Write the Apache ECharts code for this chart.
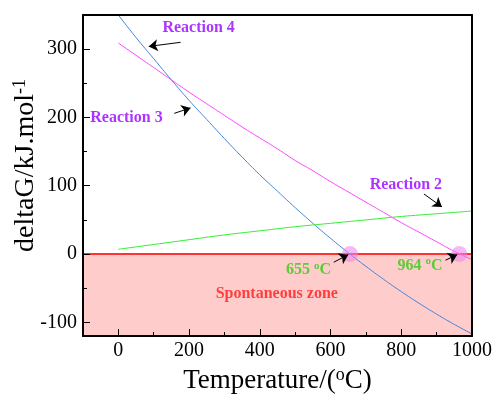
<!DOCTYPE html>
<html>
<head>
<meta charset="utf-8">
<script src="https://cdn.jsdelivr.net/npm/echarts@6/dist/echarts.min.js"></script>
<style>
  html, body { margin: 0; padding: 0; background: #fff; }
  #chart { width: 494px; height: 395px; }
</style>
</head>
<body>
<div id="chart"></div>
<script>
// temperature grid (°C) for the two steep reactions
const temps = [0, 50, 100, 150, 200, 250, 300, 350, 400, 450, 500,
  550, 600, 650, 700, 750, 800, 850, 900, 950, 1000];
// deltaG values (kJ/mol)
const reaction4 = [350, 317, 286, 255, 225, 197, 169, 142, 116, 92, 68,
  45, 23, 2, -18, -37, -55, -72, -88, -103, -117];
const reaction3 = [309, 291, 273, 255, 237, 220, 203, 186, 170, 154, 137,
  122, 106, 91, 76, 61, 46, 32, 18, 4, -8];
const temps2 = [0, 100, 200, 300, 400, 500, 600, 700, 800, 900, 1000];
const reaction2 = [7, 14, 21, 28, 34, 40, 45, 50, 55, 59, 63];

const xTicks = [0, 200, 400, 600, 800, 1000];
const xMinor = [100, 300, 500, 700, 900];
const yTicks = [-100, 0, 100, 200, 300];
const yMinor = [-50, 50, 150, 250];
const crossings = [655, 964];

const font = 'Liberation Serif';
const pair = (xs, ys) => xs.map((x, i) => [x, ys[i]]);

// annotation texts and where they sit (data coordinates)
const notes = [
  { text: 'Reaction 4', at: [227, 331], color: '#9900ff' },
  { text: 'Reaction 3', at: [23, 199], color: '#9900ff' },
  { text: 'Reaction 2', at: [813, 102], color: '#9900ff' },
  { text: '655 {sup|o}C', at: [538, -23], color: '#33cc11' },
  { text: '964 {sup|o}C', at: [853, -17], color: '#33cc11' },
  { text: 'Spontaneous zone', at: [448, -59], color: '#ff1a1a' }
];
const arrows = [
  [[176, 310], [86, 304]],
  [[158, 206], [204, 214]],
  [[864, 88], [915, 69]],
  [[609, -12], [650, -1]],
  [[925, -9], [958, -1]]
];

const chart = echarts.init(document.getElementById('chart'));

const tickStyle = { color: '#000', width: 1 };
const frameLine = { show: true, onZero: false, lineStyle: { color: '#000', width: 2 } };
const supStyle = { fontFamily: font, fontSize: 18, color: '#000', padding: [0, 0, 12, 0] };

// an axis used only for ticks or for the frame line, drawn above the fill
const plainAxis = (min, max, position, extra) => Object.assign({
  type: 'value', min: min, max: max, position: position, z: 10,
  splitLine: { show: false },
  axisLine: { show: false, onZero: false },
  axisTick: { show: false },
  axisLabel: { show: false }
}, extra);
const ticks = (values, len) => ({
  axisTick: { show: true, inside: true, length: len, lineStyle: tickStyle, customValues: values }
});

chart.setOption({
  animation: false,
  grid: { left: 83, right: 22, top: 15, bottom: 59, outerBoundsMode: 'none' },
  xAxis: [
    {
      type: 'value', min: -100, max: 1000, z: 10,
      splitLine: { show: false },
      axisLine: frameLine,
      name: 'Temperature/({sup|o}C)',
      nameLocation: 'middle', nameGap: 30, nameMoveOverlap: false,
      nameTextStyle: { fontFamily: font, fontSize: 27, color: '#000', rich: { sup: supStyle } },
      axisTick: { show: false },
      axisLabel: {
        customValues: xTicks, formatter: v => String(v),
        fontFamily: font, fontSize: 20, color: '#000', margin: 5
      }
    },
    plainAxis(-100, 1000, 'bottom', ticks(xTicks, 7)),
    plainAxis(-100, 1000, 'bottom', ticks(xMinor, 4)),
    plainAxis(-100, 1000, 'top', { axisLine: frameLine })
  ],
  yAxis: [
    {
      type: 'value', min: -120, max: 350, z: 10,
      splitLine: { show: false },
      axisLine: frameLine,
      name: 'deltaG/kJ.mol{sup|-1}',
      nameLocation: 'middle', nameGap: 42, nameRotate: 90, nameMoveOverlap: false,
      nameTextStyle: {
        fontFamily: font, fontSize: 28, color: '#000', padding: [0, 0, 0, 20],
        rich: { sup: supStyle }
      },
      axisTick: { show: false },
      axisLabel: {
        customValues: yTicks, formatter: v => String(v),
        fontFamily: font, fontSize: 20, color: '#000', margin: 6
      }
    },
    plainAxis(-120, 350, 'left', ticks(yTicks, 7)),
    plainAxis(-120, 350, 'left', ticks(yMinor, 4)),
    plainAxis(-120, 350, 'right', { axisLine: frameLine })
  ],
  series: [
    {
      name: 'zero', type: 'line', z: 1,
      data: [[-100, 0], [1000, 0]],
      symbol: 'none',
      lineStyle: { color: '#ff3333', width: 2 },
      areaStyle: { origin: 'start', color: '#ffcccc', opacity: 1 }
    },
    {
      name: 'Reaction 4', type: 'line', z: 3, smooth: true,
      data: pair(temps, reaction4), symbol: 'none',
      lineStyle: { color: '#3f86dc', width: 1 }
    },
    {
      name: 'Reaction 3', type: 'line', z: 3, smooth: true,
      data: pair(temps, reaction3), symbol: 'none',
      lineStyle: { color: '#ff44ff', width: 1 }
    },
    {
      name: 'Reaction 2', type: 'line', z: 3, smooth: true,
      data: pair(temps2, reaction2), symbol: 'none',
      lineStyle: { color: '#33ee33', width: 1 }
    },
    {
      name: 'points', type: 'scatter', z: 4,
      data: crossings.map(t => [t, 0]),
      symbolSize: 16,
      itemStyle: { color: 'rgba(238, 130, 238, 0.7)' },
      markLine: {
        silent: true,
        symbol: ['none', 'arrow'],
        symbolSize: 9,
        label: { show: false },
        lineStyle: { color: '#000', width: 1, type: 'solid' },
        data: arrows.map(a => [{ coord: a[0] }, { coord: a[1] }])
      }
    },
    {
      name: 'notes', type: 'scatter', z: 5,
      symbolSize: 0,
      data: notes.map(n => ({
        value: n.at,
        label: {
          show: true, position: 'inside', formatter: n.text,
          fontFamily: font, fontWeight: 'bold', fontSize: 16, color: n.color,
          rich: {
            sup: { fontFamily: font, fontWeight: 'bold', fontSize: 11, color: n.color, padding: [0, 0, 8, 0] }
          }
        }
      }))
    }
  ]
});
</script>
</body>
</html>
